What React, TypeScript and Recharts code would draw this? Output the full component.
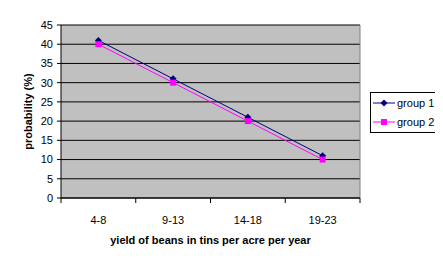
import { LineChart, Line, XAxis, YAxis, CartesianGrid, Legend, ReferenceLine, Customized } from 'recharts';

const CATEGORIES = ['4-8', '9-13', '14-18', '19-23'];
const GROUP_1 = [41, 31, 21, 11];
const GROUP_2 = [40, 30, 20, 10];
const Y_TICKS = [0, 5, 10, 15, 20, 25, 30, 35, 40, 45];
// category boundaries sit on whole numbers, labels on the half steps
const X_TICKS = [0, 0.5, 1, 1.5, 2, 2.5, 3, 3.5, 4];

const FONT = '"Liberation Sans", Arial, sans-serif';
const NAVY = '#000080';
const PINK = '#ff00ff';

const data = CATEGORIES.map((range, i) => ({ range, pos: i + 0.5, g1: GROUP_1[i], g2: GROUP_2[i] }));

function Diamond({ cx, cy, fill }: any) {
  if (cx == null || cy == null) return null;
  return <path d={`M${cx},${cy - 3.5}L${cx + 3.5},${cy}L${cx},${cy + 3.5}L${cx - 3.5},${cy}Z`} fill={fill} />;
}

function Square({ cx, cy, fill }: any) {
  if (cx == null || cy == null) return null;
  return <rect x={cx - 3} y={cy - 3} width={6} height={6} fill={fill} />;
}

function XTick({ x, y, payload }: any) {
  const v = payload.value;
  if (Number.isInteger(v)) {
    return <line x1={x} x2={x} y1={y} y2={y + 5} stroke="#000" />;
  }
  return (
    <text x={x} y={y + 26} textAnchor="middle" fontSize={11} fontFamily={FONT} fill="#000">
      {CATEGORIES[Math.floor(v)]}
    </text>
  );
}

// outer chart-area border (only its top and left edges fall inside the picture)
function Frame() {
  return <rect x={5.5} y={5.5} width={480} height={300} fill="none" stroke="#000" />;
}

function LegendBox() {
  const rows = [
    { name: 'group 1', color: NAVY, Mark: Diamond },
    { name: 'group 2', color: PINK, Mark: Square },
  ];
  return (
    <div style={{ width: 90, height: 39, border: '1px solid #000', background: '#fff' }}>
      <svg width={80} height={39} style={{ display: 'block' }}>
        {rows.map((r, i) => {
          const y = 10 + i * 19;
          return (
            <g key={r.name}>
              <line x1={2} x2={24} y1={y} y2={y} stroke={r.color} />
              <r.Mark cx={13} cy={y} fill={r.color} />
              <text x={26} y={y + 4} fontSize={11} fontFamily={FONT} fill="#000">
                {r.name}
              </text>
            </g>
          );
        })}
      </svg>
    </div>
  );
}

export default function App() {
  return (
    <div style={{ width: 443, height: 260, margin: -8, background: '#fff' }}>
      <LineChart
        width={443}
        height={260}
        data={data}
        margin={{ top: 25, right: 83, bottom: 12, left: 0 }}
      >
        <Customized component={Frame} />
        <CartesianGrid vertical={false} stroke="#000" fill="#c0c0c0" fillOpacity={1} />
        <XAxis
          dataKey="pos"
          type="number"
          domain={[0, 4]}
          ticks={X_TICKS}
          interval={0}
          height={50}
          tickSize={0}
          tickMargin={0}
          tickLine={false}
          axisLine={{ stroke: '#000' }}
          tick={<XTick />}
          label={{
            value: 'yield of beans in tins per acre per year',
            position: 'insideBottom',
            offset: 4,
            fontSize: 11,
            fontWeight: 'bold',
            fontFamily: FONT,
            fill: '#000',
          }}
        />
        <YAxis
          width={61}
          domain={[0, 45]}
          ticks={Y_TICKS}
          interval={0}
          tickSize={4}
          tickMargin={4}
          axisLine={{ stroke: '#000' }}
          tickLine={{ stroke: '#000' }}
          tick={{ fontSize: 11, fontFamily: FONT, fill: '#000' }}
          label={{
            content: ({ viewBox }: any) => {
              const cy = viewBox.y + viewBox.height / 2;
              return (
                <text
                  x={28}
                  y={cy}
                  transform={`rotate(-90, 28, ${cy})`}
                  textAnchor="middle"
                  dominantBaseline="central"
                  fontSize={11}
                  fontWeight="bold"
                  fontFamily={FONT}
                  fill="#000"
                >
                  probability (%)
                </text>
              );
            },
          }}
        />
        <ReferenceLine x={4} stroke="#808080" />
        <Line
          dataKey="g1"
          name="group 1"
          stroke={NAVY}
          strokeWidth={1}
          dot={(p: any) => <Diamond key={`d1-${p.index}`} {...p} fill={NAVY} />}
          isAnimationActive={false}
        />
        <Line
          dataKey="g2"
          name="group 2"
          stroke={PINK}
          strokeWidth={1}
          dot={(p: any) => <Square key={`d2-${p.index}`} {...p} fill={PINK} />}
          isAnimationActive={false}
        />
        <Legend
          layout="horizontal"
          verticalAlign="middle"
          align="center"
          content={() => <LegendBox />}
          wrapperStyle={{ left: 370, top: 92, width: 92, height: 41 }}
        />
      </LineChart>
    </div>
  );
}
